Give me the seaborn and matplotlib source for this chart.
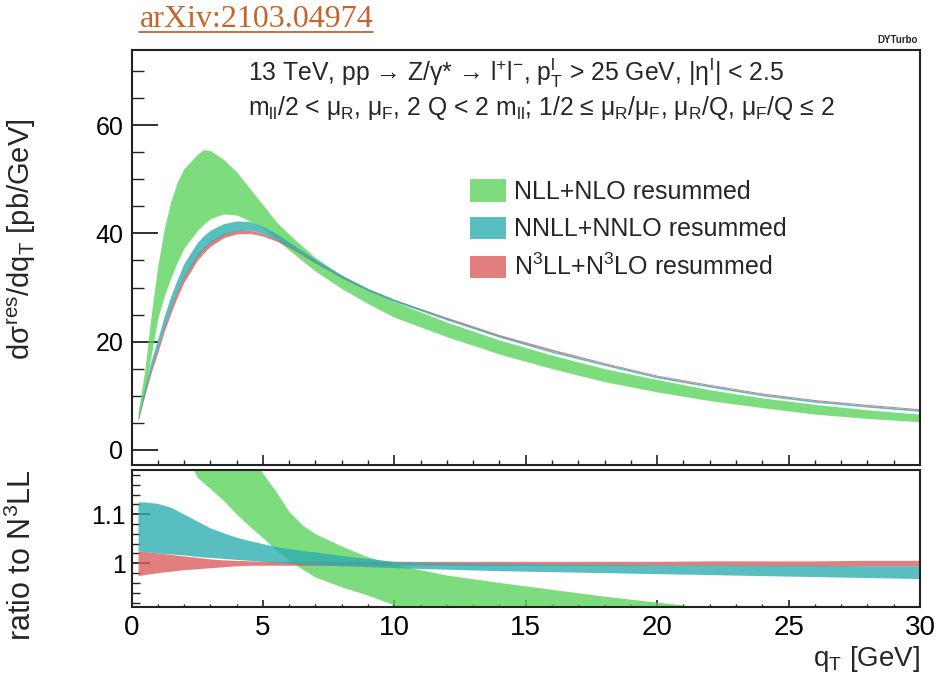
import seaborn as sns
import matplotlib.pyplot as plt
from matplotlib.patches import Patch
from matplotlib.lines import Line2D
from matplotlib.ticker import MultipleLocator

# upper panel: q_T grid [GeV] and band edges [pb/GeV]
qt = [0.25, 0.5, 0.75, 1, 1.25, 1.5, 1.75, 2, 2.5, 2.75, 3, 3.5, 4, 4.5, 5, 5.5,
      6, 7, 8, 9, 10, 12, 14, 16, 18, 20, 22, 24, 26, 28, 30]
nll_lo = [5.5, 10.3, 17.5, 24.3, 28.5, 31.8, 34.8, 37.3, 40.5, 41.7, 42.7, 43.6, 43.4, 42.3, 41.0, 39.0,
          36.9, 33.0, 29.8, 27.0, 24.5, 20.9, 17.7, 15.0, 12.6, 10.7, 9.1, 7.8, 6.6, 5.8, 5.2]
nll_hi = [7.0, 14.5, 25.0, 34.0, 41.0, 46.0, 49.6, 52.0, 54.6, 55.5, 55.3, 53.7, 51.4, 48.3, 45.3, 42.2,
          39.8, 35.5, 32.2, 29.6, 27.4, 23.6, 20.3, 17.5, 15.0, 13.0, 11.1, 9.6, 8.4, 7.4, 6.6]
nnll_lo = [5.5, 10.5, 15.0, 18.8, 22.8, 26.3, 29.3, 32.0, 35.8, 37.2, 38.3, 39.8, 40.5, 40.6, 40.0, 39.0,
           37.6, 34.6, 31.8, 29.4, 27.4, 24.0, 20.8, 18.0, 15.6, 13.3, 11.6, 10.0, 8.8, 7.9, 7.1]
nnll_hi = [6.0, 11.5, 16.5, 20.5, 24.8, 28.5, 31.6, 34.5, 38.3, 39.6, 40.6, 41.8, 42.3, 42.2, 41.3, 40.0,
           38.4, 35.2, 32.3, 29.8, 27.8, 24.3, 21.1, 18.3, 15.9, 13.6, 11.9, 10.3, 9.1, 8.2, 7.4]
n3ll_lo = [5.3, 10.0, 14.3, 18.0, 21.9, 25.3, 28.3, 31.0, 35.0, 36.4, 37.6, 39.2, 39.9, 40.0, 39.5, 38.6,
           37.4, 34.5, 31.8, 29.5, 27.5, 24.2, 21.0, 18.3, 15.9, 13.6, 11.9, 10.3, 9.1, 8.2, 7.4]
n3ll_hi = [5.8, 10.8, 15.3, 19.0, 23.0, 26.5, 29.5, 32.3, 36.2, 37.5, 38.6, 40.0, 40.6, 40.6, 40.0, 39.1,
           37.8, 34.8, 32.1, 29.8, 27.8, 24.5, 21.3, 18.6, 16.1, 13.8, 12.1, 10.5, 9.3, 8.4, 7.6]

# lower panel: ratio to N3LL
qr = [0.25, 0.5, 1, 1.5, 2, 2.5, 3, 3.5, 4, 4.5, 5, 5.5, 6, 6.5, 7, 8, 9, 10,
      12, 14, 16, 18, 20, 22, 24, 26, 28, 30]
r_nll_lo = [1.25, 1.30, 1.32, 1.29, 1.23, 1.175, 1.152, 1.128, 1.10, 1.075, 1.052, 1.027, 1.006, 0.988,
            0.972, 0.952, 0.935, 0.915, 0.885, 0.86, 0.84, 0.82, 0.80, 0.785, 0.77, 0.755, 0.74, 0.73]
r_nll_hi = [1.60, 1.75, 1.85, 1.80, 1.65, 1.55, 1.45, 1.36, 1.29, 1.225, 1.183, 1.146, 1.105, 1.078,
            1.060, 1.035, 1.013, 0.998, 0.976, 0.961, 0.947, 0.933, 0.921, 0.909, 0.898, 0.888, 0.878, 0.870]
r_nnll_lo = [1.025, 1.024, 1.021, 1.019, 1.017, 1.014, 1.012, 1.010, 1.008, 1.006, 1.004, 1.002, 1.000,
             0.9985, 0.997, 0.995, 0.993, 0.991, 0.988, 0.985, 0.983, 0.981, 0.979, 0.977, 0.975, 0.973,
             0.971, 0.969]
r_nnll_hi = [1.125, 1.125, 1.122, 1.114, 1.100, 1.086, 1.072, 1.062, 1.053, 1.046, 1.040, 1.034, 1.030,
             1.026, 1.023, 1.016, 1.010, 1.004, 1.001, 1.000, 0.999, 0.998, 0.997, 0.997, 0.996, 0.996,
             0.995, 0.995]
r_n3ll_lo = [0.975, 0.977, 0.981, 0.984, 0.987, 0.989, 0.991, 0.993, 0.995, 0.996, 0.996, 0.996, 0.996,
             0.996, 0.996, 0.996, 0.996, 0.996, 0.996, 0.996, 0.996, 0.996, 0.996, 0.996, 0.995, 0.995,
             0.995, 0.995]
r_n3ll_hi = [1.025, 1.024, 1.021, 1.018, 1.015, 1.012, 1.009, 1.007, 1.006, 1.005, 1.004, 1.004, 1.004,
             1.004, 1.004, 1.004, 1.004, 1.004, 1.004, 1.004, 1.004, 1.004, 1.004, 1.005, 1.005, 1.005,
             1.006, 1.006]

labels = ["NLL+NLO resummed", "NNLL+NNLO resummed", r"N$^{3}$LL+N$^{3}$LO resummed"]
colors = ["#5CD45C", "#2EAEB0", "#DC5E5E"]
draw_order = [0, 2, 1]  # green, red, then teal on top

sns.set_theme(style="ticks")
plt.rcParams["font.family"] = ["Liberation Sans", "DejaVu Sans"]
plt.rcParams["mathtext.fontset"] = "custom"
plt.rcParams["mathtext.rm"] = "Liberation Sans"
plt.rcParams["mathtext.it"] = "Liberation Sans"
plt.rcParams["mathtext.bf"] = "Liberation Sans:bold"

fig = plt.figure(figsize=(9.36, 6.79), dpi=100)
ax = fig.add_axes([0.1405, 0.3152, 0.8424, 0.6112])
axr = fig.add_axes([0.1405, 0.106, 0.8424, 0.2018])

top_bands = [(nll_lo, nll_hi), (nnll_lo, nnll_hi), (n3ll_lo, n3ll_hi)]
ratio_bands = [(r_nll_lo, r_nll_hi), (r_nnll_lo, r_nnll_hi), (r_n3ll_lo, r_n3ll_hi)]
for i in draw_order:
    lo, hi = top_bands[i]
    ax.fill_between(qt, lo, hi, color=colors[i], alpha=0.8, linewidth=0)
    lo, hi = ratio_bands[i]
    axr.fill_between(qr, lo, hi, color=colors[i], alpha=0.8, linewidth=0)

ax.set_xlim(0, 30)
ax.set_ylim(-2.8, 73.9)
axr.set_xlim(0, 30)
axr.set_ylim(0.911, 1.19)

for a in (ax, axr):
    a.xaxis.set_major_locator(MultipleLocator(5))
    a.xaxis.set_minor_locator(MultipleLocator(1))
    for s in a.spines.values():
        s.set_linewidth(1.5)
        s.set_color("#222222")
    a.tick_params(which="both", direction="in", color="#222222", labelcolor="black")

ax.yaxis.set_major_locator(MultipleLocator(20))
ax.yaxis.set_minor_locator(MultipleLocator(5))
ax.tick_params(axis="y", which="major", length=19, width=1.3, labelsize=18, pad=6)
ax.tick_params(axis="y", which="minor", length=8.5, width=1.0)
ax.tick_params(axis="x", which="major", length=7, width=1.2, labelbottom=False)
ax.tick_params(axis="x", which="minor", length=3.5, width=1.0)

axr.set_yticks([1.0, 1.1])
axr.set_yticklabels(["1", "1.1"])
axr.yaxis.set_minor_locator(MultipleLocator(0.02))
axr.tick_params(axis="y", which="major", length=13, width=1.3, labelsize=18, pad=4)
axr.tick_params(axis="y", which="minor", length=6, width=1.0)
axr.tick_params(axis="x", which="major", length=5, width=1.2, labelsize=20, pad=6)
axr.tick_params(axis="x", which="minor", length=2.5, width=1.0)

ax.set_ylabel(r"d$\sigma^{res}$/dq$_{T}$ [pb/GeV]", fontsize=21)
ax.yaxis.set_label_coords(-0.118, 0.545)
axr.set_ylabel(r"ratio to N$^{3}$LL", fontsize=22)
axr.yaxis.set_label_coords(-0.118, 0.38)
axr.set_xlabel(r"q$_{T}$ [GeV]", fontsize=20, loc="right", labelpad=2)

ax.text(0.148, 0.945, r"13 TeV, pp → Z/$\gamma$* → l$^{+}$l$^{-}$, p$_{T}^{l}$ > 25 GeV, |$\eta^{l}$| < 2.5",
        transform=ax.transAxes, fontsize=17.8, va="center", ha="left")
ax.text(0.148, 0.860, r"m$_{ll}$/2 < $\mu_{R}$, $\mu_{F}$, 2 Q < 2 m$_{ll}$; 1/2 ≤ $\mu_{R}$/$\mu_{F}$, $\mu_{R}$/Q, $\mu_{F}$/Q ≤ 2",
        transform=ax.transAxes, fontsize=17.8, va="center", ha="left")

handles = [Patch(facecolor=c, alpha=0.8, edgecolor="none") for c in colors]
ax.legend(handles, labels, loc="upper left", bbox_to_anchor=(0.429, 0.688), frameon=False,
          fontsize=18, handlelength=1.45, handleheight=1.0, labelspacing=0.5, handletextpad=0.3,
          borderaxespad=0, borderpad=0)

fig.text(0.981, 0.941, "DYTurbo", ha="right", va="center", fontsize=7, fontweight="bold")
arx = fig.text(0.149, 0.972, "arXiv:2103.04974", fontfamily="Liberation Serif", fontsize=23,
               color="#C4652D", va="center", ha="left")
fig.canvas.draw()
bb = arx.get_window_extent().transformed(fig.transFigure.inverted())
fig.add_artist(Line2D([bb.x0, bb.x1], [bb.y0 + 0.002, bb.y0 + 0.002], color="#C4652D", linewidth=1.3))

fig.savefig("out.png", dpi=100, facecolor="white")
